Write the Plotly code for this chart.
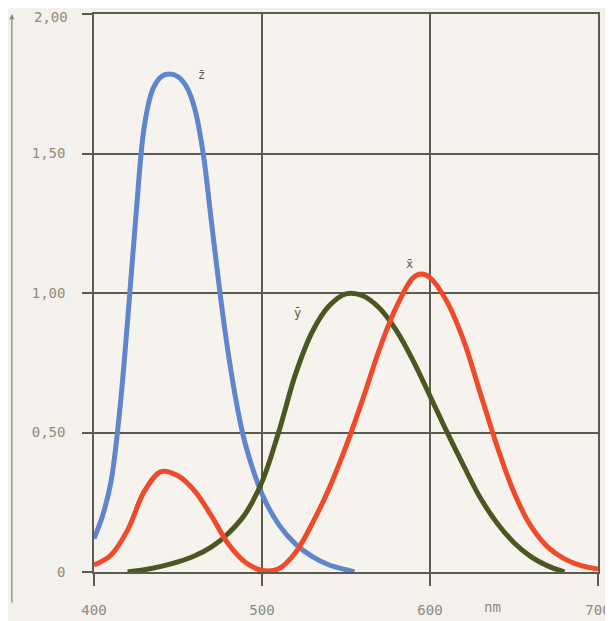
import plotly.graph_objects as go

wavelength = [400, 410, 420, 430, 440, 450, 460, 470, 480, 490, 500, 510, 520, 530, 540, 550,
              560, 570, 580, 590, 595, 600, 610, 620, 630, 640, 650, 660, 670, 680, 690, 700]
x_bar = [0.025, 0.06, 0.15, 0.29, 0.36, 0.345, 0.29, 0.20, 0.10, 0.035, 0.006, 0.012, 0.07, 0.175,
         0.30, 0.45, 0.62, 0.80, 0.95, 1.055, 1.068, 1.055, 0.97, 0.83, 0.64, 0.45, 0.285, 0.165,
         0.09, 0.047, 0.023, 0.011]
y_wl = [420, 430, 440, 450, 460, 470, 480, 490, 500, 510, 520, 530, 540, 550, 560, 570, 580,
        590, 600, 610, 620, 630, 640, 650, 660, 670, 680]
y_bar = [0.0, 0.008, 0.02, 0.036, 0.058, 0.09, 0.139, 0.208, 0.323, 0.503, 0.71, 0.862, 0.954,
         0.997, 0.99, 0.945, 0.865, 0.757, 0.631, 0.503, 0.381, 0.265, 0.175, 0.105, 0.055,
         0.022, 0.0]
z_wl = [400, 405, 410, 415, 420, 425, 430, 435, 440, 445, 450, 455, 460, 465, 470, 475, 480,
        485, 490, 500, 510, 520, 530, 540, 550, 555]
z_bar = [0.12, 0.2, 0.32, 0.56, 0.9, 1.28, 1.6, 1.73, 1.775, 1.785, 1.775, 1.74, 1.66, 1.5,
         1.25, 1.0, 0.78, 0.6, 0.46, 0.28, 0.17, 0.10, 0.055, 0.025, 0.008, 0.0]

x_ticks = [400, 500, 600, 700]
x_ticklabels = ["400", "500", "600", "700"]
y_ticks = [0, 0.5, 1.0, 1.5, 2.0]
y_ticklabels = ["0", "0,50", "1,00", "1,50", ""]
y_top_label = "2,00"

curve_labels = [("z\u0304", 464, 1.78), ("x\u0304", 588, 1.105), ("y\u0304", 521, 0.93)]

grid_col = "#5b5c50"
text_col = "#8c8c80"
font_fam = "DejaVu Sans Mono"

fig = go.Figure()
fig.add_trace(go.Scatter(x=z_wl, y=z_bar, mode="lines", line=dict(color="#5f86cc", width=5, shape="spline", smoothing=1.0), hoverinfo="skip"))
fig.add_trace(go.Scatter(x=y_wl, y=y_bar, mode="lines", line=dict(color="#4b5720", width=5, shape="spline", smoothing=1.0), hoverinfo="skip"))
fig.add_trace(go.Scatter(x=wavelength, y=x_bar, mode="lines", line=dict(color="#ef4b2b", width=5, shape="spline", smoothing=1.0), hoverinfo="skip"))

for txt, lx, ly in curve_labels:
    fig.add_annotation(x=lx, y=ly, text=txt, showarrow=False,
                       font=dict(family=font_fam, size=12, color="#5a5a50"))

fig.add_annotation(x=637, y=0, yref="y", text="nm", showarrow=False, yshift=-35,
                   font=dict(family=font_fam, size=14, color=text_col))

# top y tick label (placed as annotation so it is not dropped at the figure edge)
fig.add_annotation(xref="paper", yref="y", x=-0.0476, y=2.0, text=y_top_label,
                   showarrow=False, xanchor="right", yanchor="middle", yshift=-3,
                   font=dict(family=font_fam, size=14, color=text_col))

# vertical axis arrow at far left
fig.add_annotation(xref="paper", yref="paper", x=-0.163, y=1.0, ax=0, ay=590,
                   text="", showarrow=True, arrowhead=2, arrowsize=0.8, arrowwidth=1.3,
                   arrowcolor="#8a8a80")

fig.update_layout(
    width=605, height=613,
    margin=dict(l=86, r=15, t=6, b=49),
    paper_bgcolor="#f4f1ec",
    plot_bgcolor="#f6f3ef",
    showlegend=False,
    xaxis=dict(range=[400, 700], tickvals=x_ticks, ticktext=x_ticklabels,
               showgrid=True, gridcolor=grid_col, gridwidth=1.5,
               ticks="outside", ticklen=12, tickcolor=grid_col, tickwidth=1.5,
               showline=True, linecolor=grid_col, linewidth=1.5, mirror=True,
               zeroline=False, ticklabelstandoff=12, automargin=False,
               tickfont=dict(family=font_fam, size=14, color=text_col)),
    yaxis=dict(range=[0, 2.0], tickvals=y_ticks, ticktext=y_ticklabels,
               showgrid=True, gridcolor=grid_col, gridwidth=1.5,
               ticks="outside", ticklen=10, tickcolor=grid_col, tickwidth=1.5,
               showline=True, linecolor=grid_col, linewidth=1.5, mirror=True,
               zeroline=False, ticklabelstandoff=14, automargin=False,
               tickfont=dict(family=font_fam, size=14, color=text_col)),
)

fig.write_html("out.html")
